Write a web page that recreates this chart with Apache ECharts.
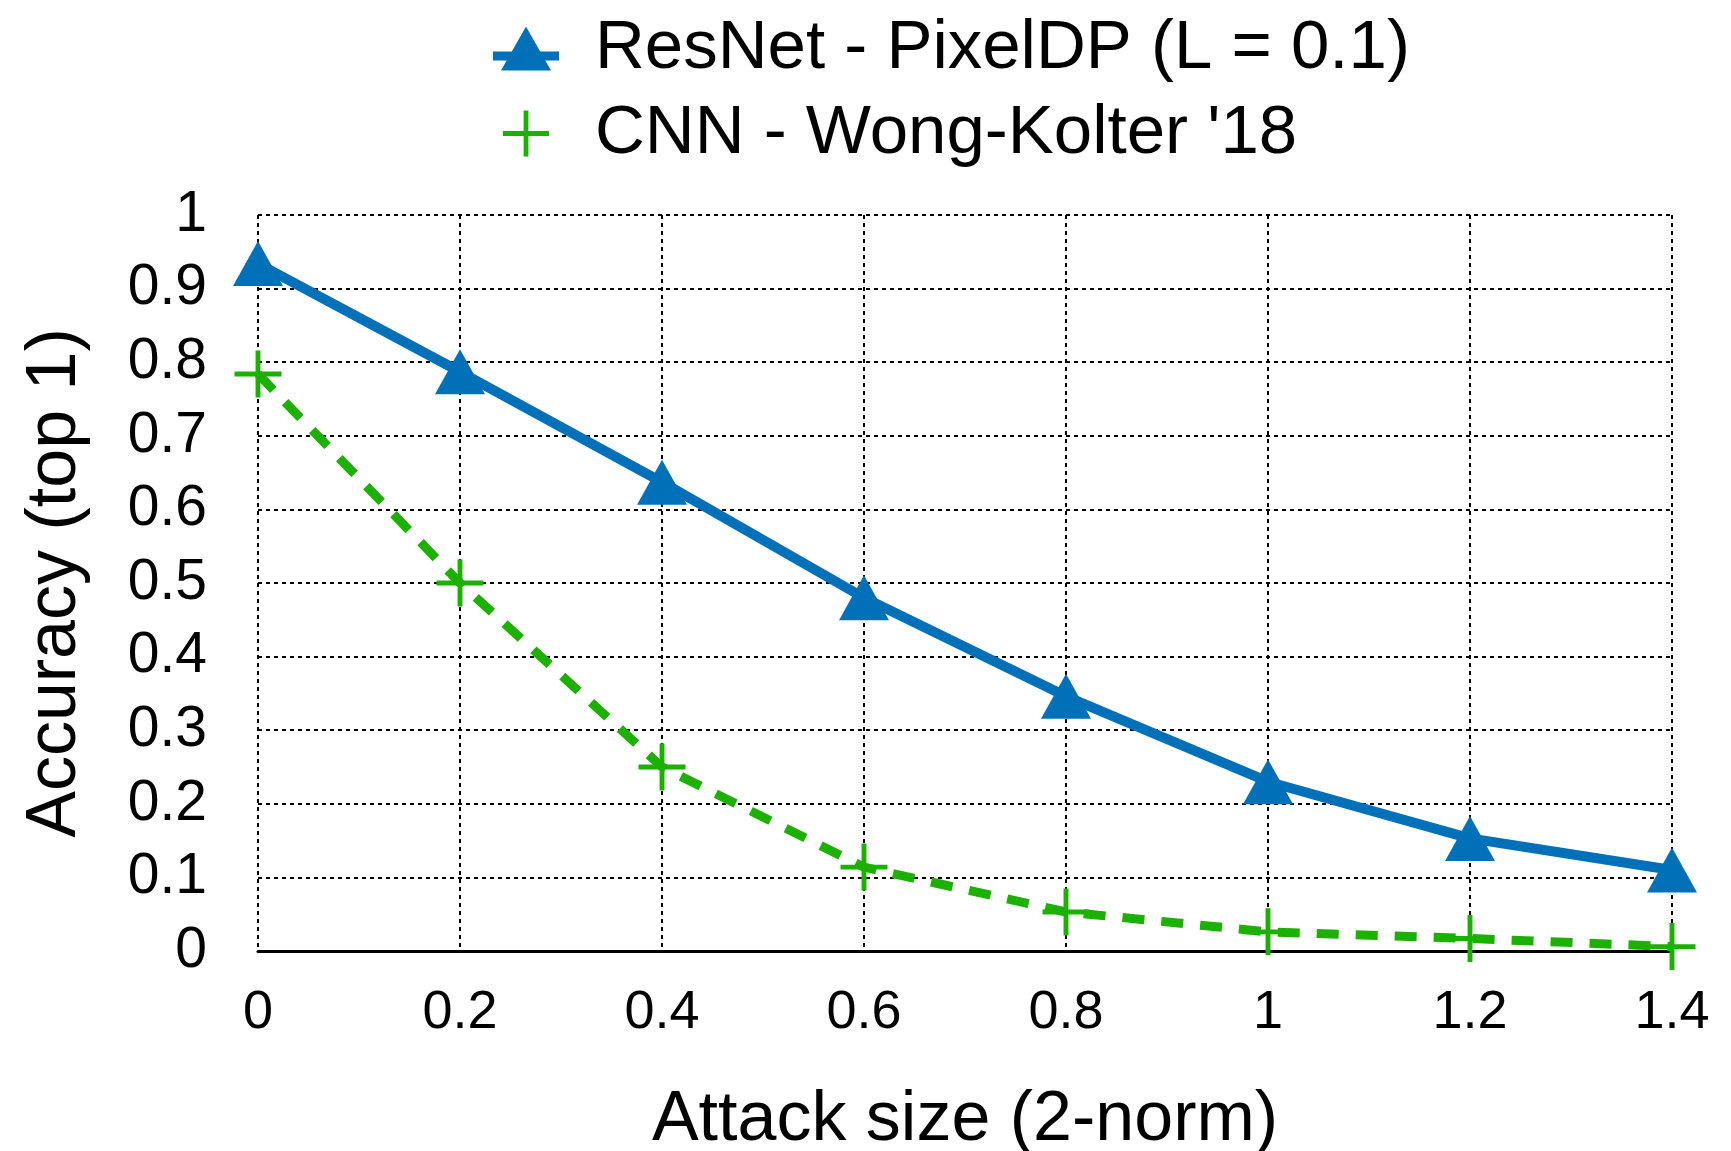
<!DOCTYPE html>
<html>
<head>
<meta charset="utf-8">
<title>Accuracy vs attack size</title>
<script src="https://cdn.jsdelivr.net/npm/echarts@6/dist/echarts.min.js"></script>
<style>
    html, body {margin: 0; padding: 0; background: #fff;}
    #chart {width: 1731px; height: 1151px;}
</style>
</head>
<body>
<div id="chart"></div>
<script>
// attack size (2-norm) on the x axis
const attackSizes = [0, 0.2, 0.4, 0.6, 0.8, 1, 1.2, 1.4]
// accuracy (top 1)
const resnetPixelDP = [0.934, 0.787, 0.637, 0.48, 0.346, 0.23, 0.153, 0.11]
const cnnWongKolter = [0.784, 0.5, 0.25, 0.114, 0.053, 0.026, 0.017, 0.006]
const seriesNames = ['ResNet - PixelDP (L = 0.1)', 'CNN - Wong-Kolter \'18']

const BLUE = '#0071b9'
const GREEN = '#1cb000'
const FONT = 'Liberation Sans'

// plus marker, filled so the arms keep a fixed thickness
const plusPath = 'path://M21.5,0 L26.5,0 L26.5,21.5 L48,21.5 L48,26.5 L26.5,26.5 L26.5,48 L21.5,48 L21.5,26.5 L0,26.5 L0,21.5 L21.5,21.5 Z'
// legend icon for the ResNet line: triangle with a short bar through it
const triBarPath = 'path://M33,0 L58,44 L8,44 Z M0,25 L66,25 L66,34 L0,34 Z'

const toPairs = (ys) => attackSizes.map((x, i) => [x, ys[i]])

const chart = echarts.init(document.getElementById('chart'))

const gridLine = {
    show: true,
    lineStyle: {color: '#000', width: 2, type: [4, 4]},
}

chart.setOption({
    animation: false,
    textStyle: {fontFamily: FONT, color: '#000'},
    // keep the plot box where it is, labels may sit near the edges
    grid: {left: 258, right: 59, top: 215, bottom: 200, outerBoundsMode: 'none', containLabel: false},
    legend: {
        orient: 'vertical',
        left: 488,
        top: 9,
        itemWidth: 66,
        itemHeight: 46,
        itemGap: 16,
        selectedMode: false,
        textStyle: {fontFamily: FONT, fontSize: 69, color: '#000', lineHeight: 68, padding: [0, 0, 0, 31]},
        data: [
            {name: seriesNames[0], icon: triBarPath},
            {name: seriesNames[1], icon: plusPath},
        ],
    },
    xAxis: {
        type: 'value',
        min: 0,
        max: 1.4,
        interval: 0.2,
        name: 'Attack size (2-norm)',
        nameLocation: 'middle',
        nameGap: 135,
        nameTextStyle: {fontFamily: FONT, fontSize: 70, color: '#000'},
        axisLine: {show: true, onZero: false, lineStyle: {color: '#000', width: 3}},
        axisTick: {show: false},
        axisLabel: {fontFamily: FONT, fontSize: 54, color: '#000', margin: 35},
        splitLine: gridLine,
    },
    yAxis: {
        type: 'value',
        min: 0,
        max: 1,
        interval: 0.1,
        name: 'Accuracy (top 1)',
        nameLocation: 'middle',
        nameGap: 167,
        nameTextStyle: {fontFamily: FONT, fontSize: 70, color: '#000'},
        axisLine: {show: false},
        axisTick: {show: false},
        axisLabel: {fontFamily: FONT, fontSize: 57, color: '#000', margin: 51, padding: [10, 0, 0, 0]},
        splitLine: gridLine,
    },
    series: [
        {
            name: seriesNames[0],
            type: 'line',
            data: toPairs(resnetPixelDP),
            symbol: 'triangle',
            symbolSize: [50, 45],
            showAllSymbol: true,
            lineStyle: {color: BLUE, width: 10},
            itemStyle: {color: BLUE, borderWidth: 0},
            z: 3,
        },
        {
            name: seriesNames[1],
            type: 'line',
            data: toPairs(cnnWongKolter),
            symbol: plusPath,
            symbolSize: 47,
            showAllSymbol: true,
            lineStyle: {color: GREEN, width: 9, type: [22, 17]},
            itemStyle: {color: GREEN, borderWidth: 0},
            z: 2,
        },
    ],
})
</script>
</body>
</html>
